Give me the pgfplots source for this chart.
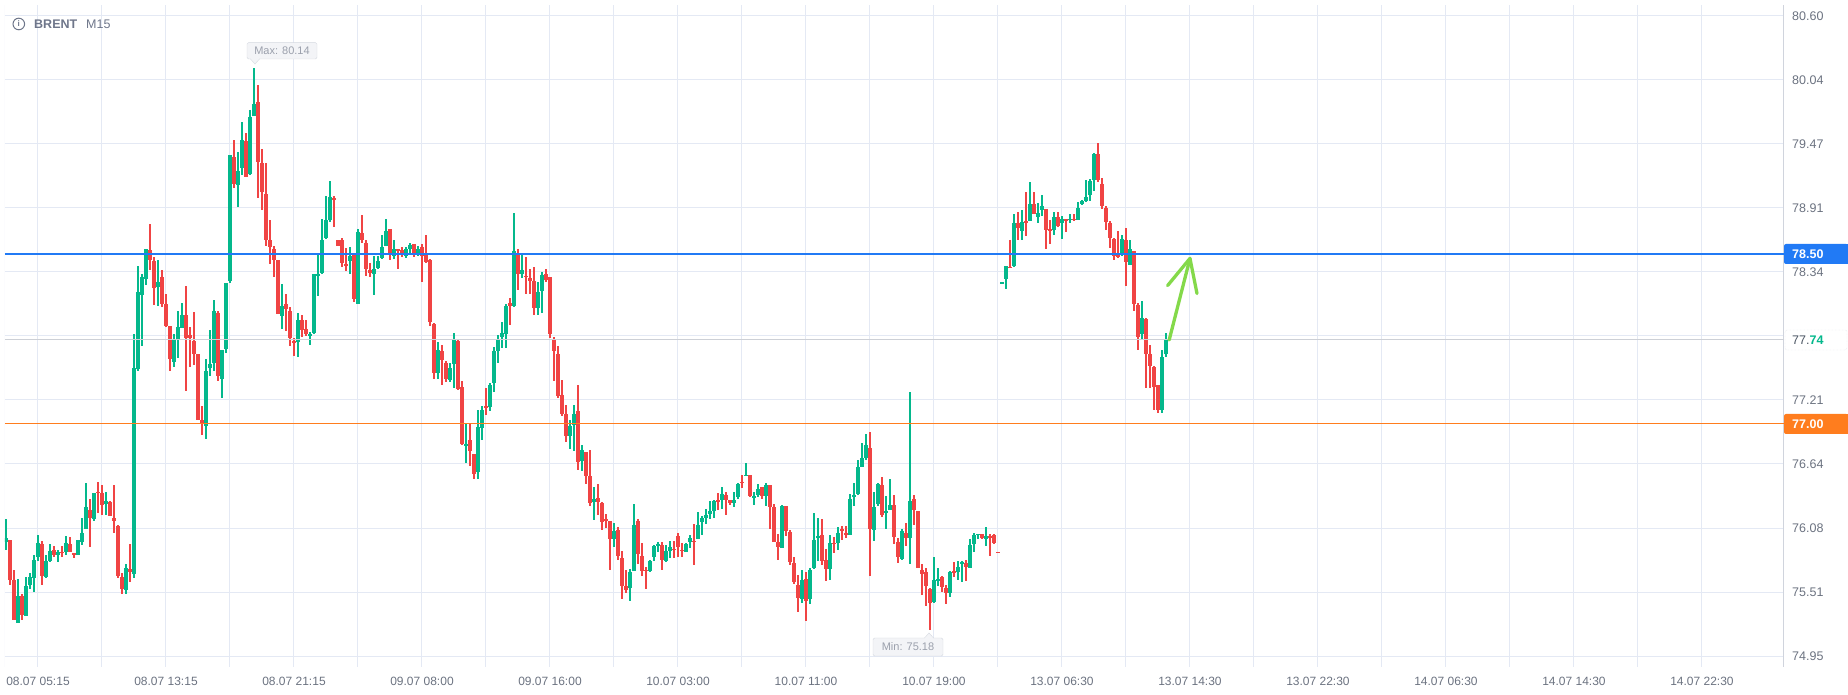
\documentclass[border=0pt]{standalone}
\usepackage{fontspec}
\setmainfont{Liberation Sans}
\usepackage{pgfplots}
\usepackage{pgfplotstable}
\pgfplotsset{compat=1.18}
\definecolor{gridc}{RGB}{228,233,244}
\definecolor{upc}{RGB}{4,184,140}
\definecolor{dnc}{RGB}{240,68,68}
\definecolor{tickc}{RGB}{107,114,128}
\definecolor{titlec}{RGB}{110,118,138}
\definecolor{bluec}{RGB}{33,122,245}
\definecolor{orangec}{RGB}{255,125,30}
\definecolor{curc}{RGB}{205,208,214}
\definecolor{curtext}{RGB}{75,85,99}
\definecolor{arrowc}{RGB}{132,217,74}
\definecolor{boxfill}{RGB}{243,244,247}
\definecolor{boxdraw}{RGB}{212,216,223}
\definecolor{labc}{RGB}{155,160,172}

\pgfplotstableread{
i O H L C
0 75.96 76.16 75.89 75.99
1 75.97 75.97 75.58 75.62
2 75.62 75.71 75.27 75.27
3 75.24 75.63 75.24 75.48
4 75.48 75.50 75.27 75.31
5 75.30 75.65 75.30 75.57
6 75.58 75.68 75.54 75.65
7 75.64 75.84 75.52 75.80
8 75.82 76.02 75.79 75.95
9 75.94 75.97 75.58 75.66
10 75.65 75.84 75.64 75.79
11 75.79 75.94 75.78 75.88
12 75.89 75.92 75.82 75.84
13 75.84 75.89 75.78 75.87
14 75.87 75.92 75.82 75.86
15 75.87 76.01 75.84 75.95
16 75.94 76.00 75.87 75.87
17 75.86 75.86 75.82 75.85
18 75.84 75.97 75.84 75.97
19 75.96 76.17 75.93 76.04
20 76.07 76.48 76.07 76.27
21 76.24 76.34 75.91 76.17
22 76.16 76.39 76.14 76.39
23 76.40 76.49 76.21 76.39
24 76.39 76.46 76.20 76.28
25 76.29 76.40 76.20 76.32
26 76.31 76.32 76.19 76.19
27 76.17 76.46 76.04 76.14
28 76.10 76.11 75.64 75.66
29 75.65 75.68 75.50 75.54
30 75.53 75.76 75.50 75.73
31 75.72 75.94 75.60 75.69
32 75.67 77.79 75.64 77.49
33 77.48 78.39 77.47 78.16
34 78.14 78.32 77.69 78.30
35 78.28 78.54 78.23 78.54
36 78.53 78.76 78.36 78.45
37 78.44 78.47 78.05 78.20
38 78.21 78.45 78.04 78.25
39 78.30 78.36 78.03 78.06
40 78.06 78.15 77.85 77.86
41 77.86 77.86 77.47 77.57
42 77.55 77.79 77.50 77.75
43 77.75 78.00 77.58 77.85
44 77.85 78.07 77.85 77.96
45 77.96 78.22 77.29 77.76
46 77.78 77.85 77.50 77.76
47 77.73 77.99 77.52 77.62
48 77.62 77.62 77.03 77.03
49 77.03 77.16 76.90 77.01
50 76.98 77.57 76.87 77.47
51 77.49 77.83 77.42 77.53
52 77.54 78.09 77.47 78.00
53 77.98 78.00 77.38 77.42
54 77.40 77.65 77.23 77.65
55 77.66 78.24 77.63 78.24
56 78.26 79.37 78.24 79.37
57 79.36 79.51 79.08 79.12
58 79.11 79.40 78.91 79.23
59 79.26 79.66 79.20 79.51
60 79.50 79.57 79.18 79.18
61 79.21 79.77 79.20 79.71
62 79.72 80.14 79.72 79.82
63 79.84 79.99 78.99 79.31
64 79.30 79.43 78.89 79.05
65 79.03 79.30 78.57 78.62
66 78.62 78.80 78.41 78.56
67 78.54 78.57 78.30 78.45
68 78.45 78.45 77.97 77.97
69 77.95 78.23 77.84 78.04
70 78.06 78.15 77.82 78.01
71 78.00 78.03 77.69 77.76
72 77.73 77.76 77.60 77.72
73 77.72 77.98 77.59 77.92
74 77.92 77.96 77.77 77.83
75 77.84 77.92 77.78 77.79
76 77.78 77.81 77.70 77.79
77 77.80 78.32 77.79 78.32
78 78.31 78.49 78.13 78.32
79 78.33 78.81 78.32 78.62
80 78.64 79.01 78.63 78.80
81 78.80 79.14 78.78 79.00
82 78.99 79.01 78.74 78.98
83 78.62 78.62 78.57 78.57
84 78.62 78.64 78.38 78.42
85 78.41 78.55 78.35 78.40
86 78.44 78.56 78.32 78.48
87 78.49 78.49 78.08 78.10
88 78.06 78.72 78.06 78.69
89 78.68 78.84 78.60 78.62
90 78.60 78.62 78.31 78.37
91 78.36 78.42 78.30 78.33
92 78.32 78.48 78.14 78.37
93 78.38 78.48 78.37 78.44
94 78.46 78.67 78.46 78.56
95 78.57 78.81 78.57 78.70
96 78.72 78.72 78.45 78.49
97 78.48 78.62 78.46 78.54
98 78.54 78.54 78.37 78.53
99 78.53 78.56 78.47 78.49
100 78.48 78.56 78.46 78.54
101 78.54 78.60 78.50 78.58
102 78.59 78.59 78.47 78.51
103 78.50 78.57 78.48 78.54
104 78.56 78.59 78.25 78.48
105 78.49 78.67 78.42 78.43
106 78.45 78.46 77.86 77.90
107 77.88 77.89 77.40 77.45
108 77.45 77.72 77.40 77.65
109 77.64 77.70 77.34 77.56
110 77.54 77.55 77.37 77.40
111 77.39 77.54 77.37 77.49
112 77.53 77.80 77.32 77.75
113 77.73 77.75 77.30 77.31
114 77.33 77.38 76.81 76.82
115 76.81 77.00 76.65 76.82
116 76.86 77.01 76.63 76.76
117 76.73 76.73 76.51 76.56
118 76.57 77.12 76.51 76.97
119 76.96 77.16 76.86 77.12
120 77.16 77.32 77.08 77.14
121 77.15 77.36 77.11 77.34
122 77.36 77.68 77.28 77.64
123 77.64 77.78 77.54 77.75
124 77.77 77.90 77.67 77.80
125 77.79 78.06 77.67 78.04
126 78.07 78.11 77.87 78.04
127 78.04 78.86 78.03 78.53
128 78.51 78.54 78.18 78.32
129 78.32 78.51 78.29 78.36
130 78.31 78.47 78.15 78.30
131 78.29 78.37 78.15 78.26
132 78.26 78.38 77.96 78.02
133 78.02 78.25 77.96 78.16
134 78.17 78.34 77.98 78.31
135 78.32 78.37 78.25 78.27
136 78.30 78.30 77.76 77.79
137 77.75 77.77 77.38 77.64
138 77.62 77.69 77.23 77.25
139 77.25 77.39 77.07 77.09
140 77.09 77.17 76.84 76.89
141 76.89 77.03 76.78 76.98
142 76.99 77.17 76.76 77.09
143 77.11 77.34 76.59 76.66
144 76.67 76.81 76.58 76.77
145 76.75 76.75 76.47 76.54
146 76.54 76.77 76.27 76.30
147 76.31 76.44 76.15 76.34
148 76.35 76.47 76.20 76.31
149 76.30 76.31 76.06 76.13
150 76.16 76.20 76.08 76.14
151 76.14 76.14 75.71 75.98
152 75.98 76.12 75.91 76.05
153 76.06 76.09 75.80 75.83
154 75.82 75.88 75.45 75.57
155 75.57 75.71 75.51 75.53
156 75.55 75.72 75.44 75.69
157 75.70 76.29 75.70 76.11
158 76.14 76.16 75.76 75.85
159 75.83 75.95 75.66 75.70
160 75.71 75.74 75.54 75.70
161 75.70 75.80 75.69 75.79
162 75.82 75.93 75.79 75.92
163 75.93 75.96 75.87 75.94
164 75.93 75.96 75.71 75.80
165 75.79 75.93 75.78 75.88
166 75.88 75.97 75.82 75.91
167 75.90 75.97 75.82 75.89
168 76.01 76.04 75.82 75.91
169 75.89 75.95 75.82 75.88
170 75.87 75.95 75.87 75.94
171 75.96 76.02 75.90 75.99
172 75.97 76.12 75.75 75.96
173 75.98 76.22 75.98 76.11
174 76.13 76.19 76.02 76.17
175 76.17 76.25 76.12 76.20
176 76.20 76.32 76.16 76.23
177 76.23 76.33 76.17 76.32
178 76.33 76.39 76.24 76.31
179 76.33 76.44 76.25 76.38
180 76.37 76.40 76.20 76.33
181 76.33 76.33 76.28 76.30
182 76.30 76.40 76.27 76.33
183 76.35 76.48 76.34 76.47
184 76.49 76.55 76.43 76.48
185 76.54 76.65 76.54 76.55
186 76.55 76.55 76.35 76.36
187 76.35 76.40 76.28 76.36
188 76.37 76.47 76.35 76.42
189 76.44 76.44 76.34 76.36
190 76.36 76.48 76.27 76.46
191 76.46 76.46 76.07 76.27
192 76.27 76.29 75.96 75.96
193 75.96 76.03 75.80 75.91
194 75.90 76.28 75.90 76.27
195 76.27 76.27 76.01 76.05
196 76.05 76.06 75.75 75.78
197 75.77 75.82 75.59 75.60
198 75.58 75.67 75.34 75.46
199 75.45 75.71 75.42 75.62
200 75.63 75.69 75.26 75.44
201 75.45 75.73 75.41 75.71
202 75.73 76.21 75.72 75.97
203 75.99 76.17 75.79 76.01
204 76.02 76.16 75.75 75.79
205 75.80 75.90 75.61 75.72
206 75.72 76.02 75.62 75.95
207 75.95 76.00 75.86 75.94
208 75.95 76.09 75.89 76.04
209 76.07 76.10 75.97 76.06
210 76.04 76.10 75.99 76.02
211 76.02 76.38 76.02 76.34
212 76.35 76.48 76.27 76.37
213 76.38 76.68 76.37 76.62
214 76.62 76.83 76.62 76.70
215 76.70 76.91 76.68 76.81
216 76.79 76.93 75.66 76.07
217 76.06 76.40 75.97 76.27
218 76.29 76.48 76.27 76.47
219 76.46 76.53 76.18 76.20
220 76.21 76.36 76.07 76.23
221 76.24 76.51 76.24 76.28
222 76.28 76.37 75.94 76.00
223 75.96 75.99 75.77 75.82
224 75.81 76.07 75.80 76.05
225 76.04 76.12 75.92 75.99
226 75.99 77.28 75.76 76.32
227 76.34 76.37 76.11 76.24
228 76.23 76.23 75.73 75.73
229 75.71 75.76 75.49 75.67
230 75.69 75.73 75.39 75.57
231 75.54 75.55 75.18 75.42
232 75.43 75.82 75.42 75.62
233 75.62 75.73 75.57 75.63
234 75.65 75.66 75.52 75.56
235 75.55 75.58 75.41 75.51
236 75.51 75.70 75.47 75.69
237 75.70 75.78 75.65 75.68
238 75.69 75.79 75.62 75.74
239 75.76 75.79 75.60 75.78
240 75.77 75.80 75.61 75.74
241 75.73 75.98 75.73 75.93
242 75.94 76.04 75.87 76.02
243 76.02 76.03 75.98 76.03
244 76.03 76.03 75.98 75.99
245 75.98 76.09 75.92 76.01
246 76.01 76.03 75.83 75.99
247 76.02 76.03 75.94 75.95
248 75.87 75.87 75.86 75.86
249 78.24 78.25 78.24 78.25
250 78.28 78.39 78.19 78.39
251 78.385 78.62 78.38 78.38
252 78.39 78.85 78.38 78.77
253 78.77 78.87 78.62 78.73
254 78.70 78.89 78.62 78.78
255 78.79 79.05 78.66 78.78
256 78.79 79.13 78.79 78.94
257 78.94 79.05 78.85 78.85
258 78.83 78.95 78.77 78.86
259 78.89 79.02 78.83 78.92
260 78.90 78.90 78.54 78.71
261 78.72 78.80 78.59 78.70
262 78.71 78.87 78.67 78.83
263 78.83 78.87 78.74 78.75
264 78.77 78.83 78.63 78.81
265 78.81 78.81 78.69 78.79
266 78.80 78.85 78.77 78.81
267 78.81 78.85 78.79 78.80
268 78.80 78.96 78.80 78.91
269 78.94 78.98 78.93 78.97
270 78.97 79.15 78.96 79.00
271 79.02 79.16 78.97 79.14
272 79.15 79.39 79.06 79.38
273 79.38 79.48 79.13 79.15
274 79.12 79.17 78.90 78.92
275 78.91 78.92 78.71 78.78
276 78.77 78.79 78.55 78.64
277 78.63 78.64 78.45 78.48
278 78.485 78.70 78.46 78.48
279 78.49 78.67 78.48 78.63
280 78.62 78.73 78.22 78.43
281 78.40 78.62 78.40 78.54
282 78.53 78.53 78.00 78.06
283 78.05 78.07 77.65 77.77
284 77.79 78.08 77.74 77.93
285 77.93 77.93 77.32 77.62
286 77.62 77.70 77.32 77.51
287 77.50 77.51 77.12 77.33
288 77.34 77.34 77.10 77.12
289 77.12 77.65 77.10 77.59
290 77.62 77.80 77.59 77.74
}\candles

\begin{document}
\begin{tikzpicture}
\useasboundingbox (0pt,0pt) rectangle (1848pt,695pt);
\begin{axis}[
  at={(5pt,28pt)}, anchor=south west,
  width=1779pt, height=662pt, scale only axis,
  xmin=-0.25, xmax=444.5, ymin=74.853, ymax=80.697,
  axis line style={draw=none},
  major tick length=0pt, minor tick length=0pt,
  xtick={8,40,...,424},
  minor xtick={24,56,...,408},
  xticklabels={08.07 05:15,08.07 13:15,08.07 21:15,09.07 08:00,09.07 16:00,10.07 03:00,10.07 11:00,10.07 19:00,13.07 06:30,13.07 14:30,13.07 22:30,14.07 06:30,14.07 14:30,14.07 22:30},
  ytick={74.95,75.515,76.08,76.645,77.21,77.775,78.34,78.905,79.47,80.035,80.60},
  yticklabels={74.95,75.51,76.08,76.64,77.21,{},78.34,78.91,79.47,80.04,80.60},
  yticklabel pos=right,
  xmajorgrids, xminorgrids, ymajorgrids,
  major grid style={draw=gridc, line width=1pt},
  minor grid style={draw=gridc, line width=1pt},
  tick label style={font=\fontsize{12}{14}\selectfont, text=tickc},
  xticklabel style={anchor=north, inner sep=0pt, yshift=-10pt},
  yticklabel style={anchor=west, inner sep=0pt, xshift=8pt, font=\fontsize{12.5}{14}\selectfont},
  /pgf/number format/assume math mode=true,
]
\draw[gridc, line width=1pt] (rel axis cs:0,0) -- (rel axis cs:0,1);
\draw[gridc!80!gray, line width=1pt] (rel axis cs:1,0) -- (rel axis cs:1,1);
% wicks
\addplot[draw=none, forget plot, error bars/.cd, y dir=both, y explicit, error mark=none,
  error bar style={draw=upc, line width=1.1pt}]
  table[x=i, y expr={\thisrow{C}>=\thisrow{O} ? (\thisrow{H}+\thisrow{L})/2 : nan},
        y error expr={(\thisrow{H}-\thisrow{L})/2}] {\candles};
\addplot[draw=none, forget plot, error bars/.cd, y dir=both, y explicit, error mark=none,
  error bar style={draw=dnc, line width=1.1pt}]
  table[x=i, y expr={\thisrow{C}<\thisrow{O} ? (\thisrow{H}+\thisrow{L})/2 : nan},
        y error expr={(\thisrow{H}-\thisrow{L})/2}] {\candles};
% bodies
\addplot[draw=none, forget plot, error bars/.cd, y dir=both, y explicit, error mark=none,
  error bar style={draw=upc, line width=3.2pt}]
  table[x=i, y expr={\thisrow{C}>=\thisrow{O} ? (\thisrow{O}+\thisrow{C})/2 : nan},
        y error expr={max(abs(\thisrow{C}-\thisrow{O})/2,0.005)}] {\candles};
\addplot[draw=none, forget plot, error bars/.cd, y dir=both, y explicit, error mark=none,
  error bar style={draw=dnc, line width=3.2pt}]
  table[x=i, y expr={\thisrow{C}<\thisrow{O} ? (\thisrow{O}+\thisrow{C})/2 : nan},
        y error expr={max(abs(\thisrow{C}-\thisrow{O})/2,0.005)}] {\candles};
% level lines
\addplot[curc, line width=1pt, forget plot] coordinates {(-0.25,77.74) (444.5,77.74)};
\addplot[bluec, line width=1.4pt, forget plot] coordinates {(-0.25,78.50) (444.5,78.50)};
\addplot[orangec, line width=1.4pt, forget plot] coordinates {(-0.25,77.00) (444.5,77.00)};
% arrow
\addplot[arrowc, line width=3.3pt, line cap=round, line join=round, forget plot] coordinates {(290.8,77.74) (296,78.46)};
\addplot[arrowc, line width=3.3pt, line cap=round, line join=round, forget plot] coordinates {(290.4,78.22) (296,78.46) (297.75,78.15)};
\end{axis}
% header
\draw[titlec, line width=1pt] (18.8pt,671pt) circle (5.8pt);
\node[text=titlec, inner sep=0pt] at (18.8pt,671pt) {\fontsize{8}{8}\selectfont\bfseries i};
\node[text=titlec, inner sep=0pt, anchor=base west] at (34pt,666.4pt) {\fontsize{12.5}{14}\selectfont\bfseries BRENT};
\node[text=titlec, inner sep=0pt, anchor=base west] at (86pt,666.4pt) {\fontsize{12.5}{14}\selectfont M15};
% price badges
\fill[bluec, rounded corners=2pt] (1784pt,431pt) rectangle (1848pt,451pt);
\fill[bluec] (1800pt,431pt) rectangle (1848pt,451pt);
\node[text=white, inner sep=0pt, anchor=west] at (1792pt,441pt) {\fontsize{12.5}{14}\selectfont\bfseries 78.50};
\fill[orangec, rounded corners=2pt] (1784pt,261pt) rectangle (1848pt,281pt);
\fill[orangec] (1800pt,261pt) rectangle (1848pt,281pt);
\node[text=white, inner sep=0pt, anchor=west] at (1792pt,271pt) {\fontsize{12.5}{14}\selectfont\bfseries 77.00};
\draw[boxdraw, densely dotted, fill=white, rounded corners=2pt] (1785pt,345pt) rectangle (1847pt,365pt);
\node[inner sep=0pt, anchor=west] at (1792pt,355pt) {\fontsize{12.5}{14}\selectfont\textcolor{curtext}{77.}\textcolor{upc}{\bfseries 74}};
% max / min labels
\draw[boxdraw, fill=boxfill, rounded corners=1.5pt] (247pt,636pt) rectangle (317pt,652.3pt);
\fill[boxfill] (250.5pt,636.8pt) -- (255pt,631pt) -- (259.5pt,636.8pt) -- cycle;
\draw[boxdraw] (250.5pt,636pt) -- (255pt,631pt) -- (259.5pt,636pt);
\node[text=labc, inner sep=0pt] at (282pt,644.2pt) {\fontsize{11}{12}\selectfont Max: 80.14};
\draw[boxdraw, fill=boxfill, rounded corners=1.5pt] (873pt,39pt) rectangle (943pt,57pt);
\fill[boxfill] (924.5pt,56.2pt) -- (929pt,62pt) -- (933.5pt,56.2pt) -- cycle;
\draw[boxdraw] (924.5pt,57pt) -- (929pt,62pt) -- (933.5pt,57pt);
\node[text=labc, inner sep=0pt] at (908pt,48pt) {\fontsize{11}{12}\selectfont Min: 75.18};
\end{tikzpicture}
\end{document}
